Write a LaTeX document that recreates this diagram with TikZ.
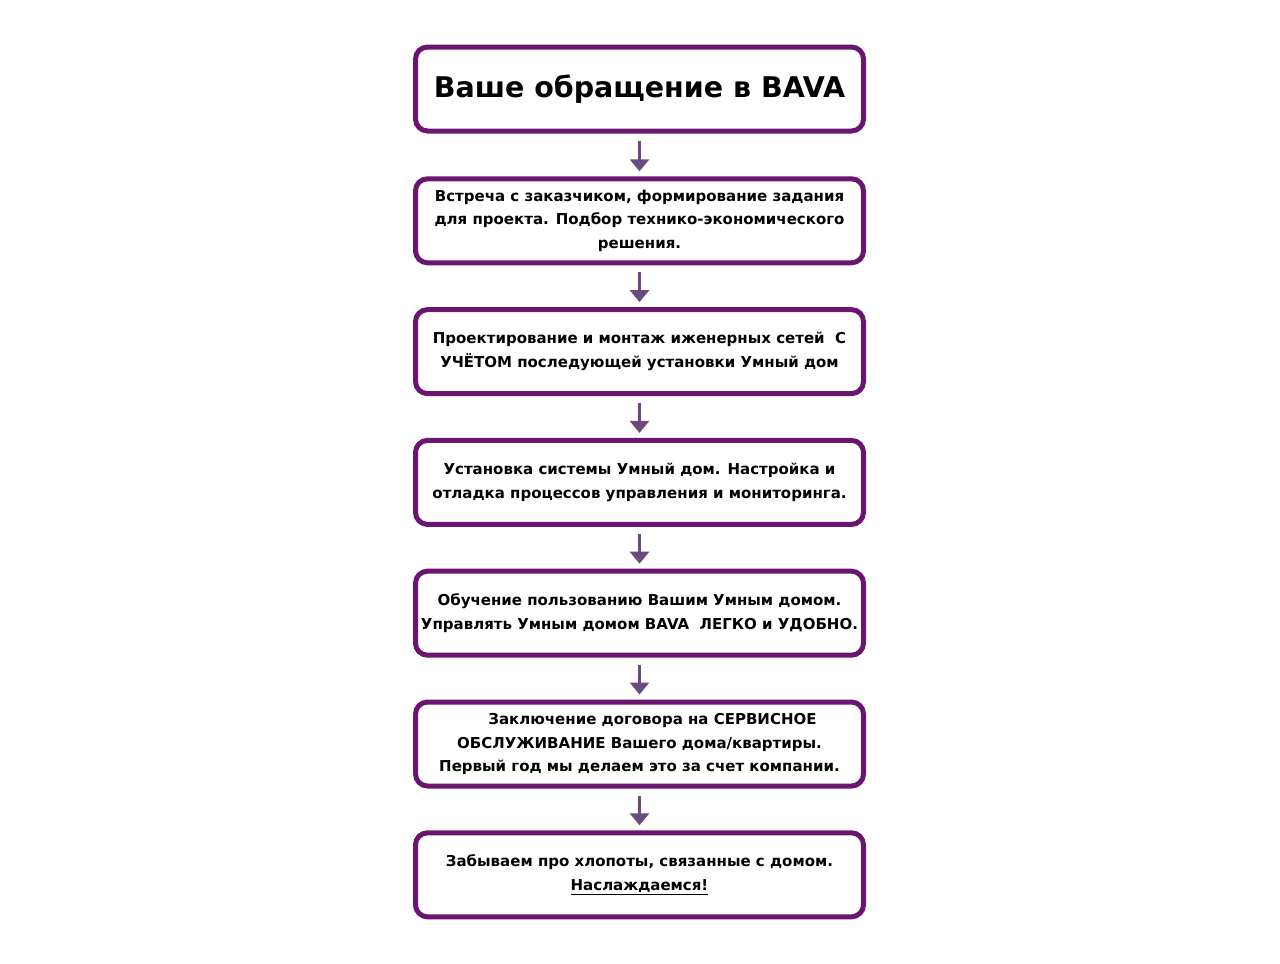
\documentclass[tikz,border=0pt]{standalone}
\usepackage{fontspec}
\setmainfont{DejaVu Sans}
\usetikzlibrary{arrows.meta}
\definecolor{boxpurple}{HTML}{6A1670}
\definecolor{arrowpurple}{HTML}{6B4A7E}
\begin{document}
\begin{tikzpicture}[x=1pt,y=-1pt,
  stage/.style={draw=boxpurple, line width=5pt, rounded corners=12pt, fill=white,
    minimum width=448pt, minimum height=84pt, align=center,
    font=\fontsize{15}{23.5}\selectfont\bfseries, inner sep=0pt},
  flow/.style={draw=arrowpurple, line width=3pt, -{Triangle[width=19pt,length=12pt]}}]
\useasboundingbox[fill=white] (0,0) rectangle (1280,964);
\node[stage, font=\fontsize{28.5}{34}\selectfont\bfseries] (b1) at (639.5,89) {\raisebox{4pt}{Ваше обращение в BAVA}};
\node[stage] (b2) at (639.5,220.8) {Встреча с заказчиком, формирование задания\\для проекта. Подбор технико-экономического\\решения.};
\node[stage] (b3) at (639.5,351.6) {Проектирование и монтаж иженерных сетей~~С\\УЧЁТОМ последующей установки Умный дом};
\node[stage] (b4) at (639.5,482.4) {Установка системы Умный дом. Настройка и\\отладка процессов управления и мониторинга.};
\node[stage] (b5) at (639.5,613.2) {Обучение пользованию Вашим Умным домом.\\Управлять Умным домом BAVA~~ЛЕГКО и УДОБНО.};
\node[stage] (b6) at (639.5,744) {\hspace*{26pt}Заключение договора на СЕРВИСНОЕ\\ОБСЛУЖИВАНИЕ Вашего дома/квартиры.\\Первый год мы делаем это за счет компании.};
\node[stage] (b7) at (639.5,874.8) {Забываем про хлопоты, связанные с домом.\\\underline{Наслаждаемся!}};
\foreach \a/\b in {b1/b2,b2/b3,b3/b4,b4/b5,b5/b6,b6/b7}
  \draw[flow] ([yshift=-7pt]\a.south) -- ([yshift=5pt]\b.north);
\end{tikzpicture}
\end{document}
